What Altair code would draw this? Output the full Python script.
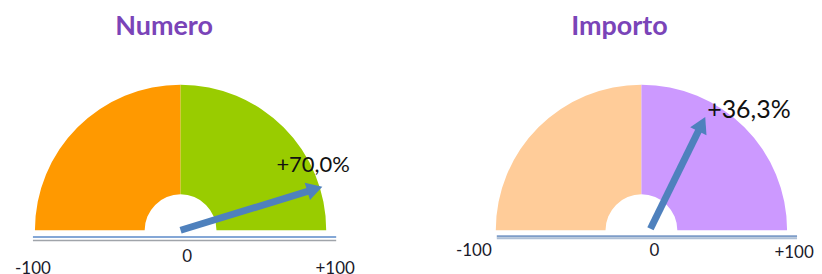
import altair as alt
import pandas as pd

# ---- data ----
gauges = ["Numero", "Importo"]
values = [70.0, 36.3]
seg_names = ["neg", "pos"]
seg_start = [-100, 0]
seg_end = [0, 100]
# needle ends, in gauge units (radius of the dial = 100)
needle_tail_x = [0.0, 6.2]
needle_tail_y = [0.0, 1.0]
needle_tip_x = [97.3, 43.8]
needle_tip_y = [29.8, 77.7]
tick_values = [-100, 0, 100]
tick_labels = ["-100", "0", "+100"]

# ---- layout / style ----
PX = 1.46          # pixels per gauge unit
W, H = 403, 258    # panel size
CY = 222.5         # dial centre, panel y
R_OUT, R_IN = 146, 36
FONT = "Lato"
NEEDLE = "#4F81BD"
TITLE_COLOR = "#7A44B8"

STYLE = {
    "Numero": dict(colors=["#FF9900", "#99CC00"], cx=173, title_dx=-16.5,
                   val_dx=-46, val_dy=-15, val_size=22,
                   tick_dx=[-2, 6.5, 9], tick_dy=[44, 32, 44],
                   base=[(-6.8, 1.6, "#5B8AC8"), (-10.2, 1.6, "#A0A4AA")], base_x=(-148, 156)),
    "Importo": dict(colors=["#FFCC99", "#CC99FF"], cx=232, title_dx=-22,
                    val_dx=2, val_dy=1, val_size=25,
                    tick_dx=[-22, 13, 7], tick_dy=[26, 26, 28],
                    base=[(-6.0, 2.2, "#7E9DC8"), (-8.0, 2.2, "#AFC0D6")], base_x=(-145, 156)),
}


def fmt(v):
    return ("+" if v >= 0 else "") + f"{v:.1f}".replace(".", ",") + "%"


def panel(i):
    name = gauges[i]
    st = STYLE[name]
    cx = st["cx"]
    xs = alt.Scale(domain=[-cx / PX, (W - cx) / PX], nice=False, zero=False)
    ys = alt.Scale(domain=[-(H - CY) / PX, CY / PX], nice=False, zero=False)

    def X(f):
        return alt.X(f, type="quantitative", scale=xs, axis=None)

    def Y(f):
        return alt.Y(f, type="quantitative", scale=ys, axis=None)

    centre = pd.DataFrame({"cx": [0.0], "cy": [0.0]})

    # dial halves
    arcs = alt.Chart(pd.DataFrame({"seg": seg_names, "start": seg_start, "end": seg_end})).transform_calculate(
        t0="datum.start / 100 * PI / 2", t1="datum.end / 100 * PI / 2", cx="0", cy="0"
    ).mark_arc(radius=R_OUT, radius2=R_IN, stroke=None).encode(
        x=X("cx"), y=Y("cy"),
        theta=alt.Theta("t0:Q", scale=None, stack=None),
        theta2=alt.Theta2("t1:Q"),
        color=alt.Color("seg:N", scale=alt.Scale(domain=seg_names, range=st["colors"]), legend=None),
    )

    # baseline
    bx0, bx1 = st["base_x"]
    bases = []
    for (yy, sw, col) in st["base"]:
        bdf = pd.DataFrame({"x0": [bx0 / PX], "x1": [bx1 / PX], "y": [yy / PX]})
        bases.append(alt.Chart(bdf).mark_rule(strokeWidth=sw, color=col).encode(
            x=X("x0"), x2="x1", y=Y("y")))

    # needle
    nd = pd.DataFrame({"tx": [needle_tail_x[i]], "ty": [needle_tail_y[i]],
                       "hx": [needle_tip_x[i]], "hy": [needle_tip_y[i]],
                       "label": [fmt(values[i])]})
    back = 7.8 / PX
    needle_base = alt.Chart(nd).transform_calculate(
        ddx="datum.hx - datum.tx", ddy="datum.hy - datum.ty"
    ).transform_calculate(
        ln="sqrt(datum.ddx * datum.ddx + datum.ddy * datum.ddy)"
    ).transform_calculate(
        bx=f"datum.hx - datum.ddx / datum.ln * {back}",
        by=f"datum.hy - datum.ddy / datum.ln * {back}",
        ang="atan2(datum.ddx, datum.ddy) * 180 / PI",
    )
    shaft = needle_base.mark_rule(strokeWidth=7, color=NEEDLE, strokeCap="butt").encode(
        x=X("tx"), y=Y("ty"), x2="bx", y2="by"
    )
    head = needle_base.mark_point(shape="triangle-up", size=330, filled=True, opacity=1,
                                  color=NEEDLE, strokeWidth=0).encode(
        x=X("bx"), y=Y("by"), angle=alt.Angle("ang:Q", scale=None)
    )
    label = alt.Chart(nd).mark_text(font=FONT, fontSize=st["val_size"], color="#111111",
                                    align="left", baseline="alphabetic",
                                    dx=st["val_dx"], dy=st["val_dy"]).encode(
        x=X("hx"), y=Y("hy"), text="label:N"
    )

    title = alt.Chart(centre.assign(t=[name])).mark_text(
        font=FONT, fontSize=27, fontWeight="bold", color=TITLE_COLOR,
        align="center", baseline="alphabetic", dx=st["title_dx"], dy=35 - (CY + 8)
    ).encode(x=X("cx"), y=Y("cy"), text="t:N")

    layers = [arcs] + bases + [shaft, head, label, title]
    for k, (tv, tl) in enumerate(zip(tick_values, tick_labels)):
        tdf = pd.DataFrame({"x": [tv], "y": [0.0], "t": [tl]})
        layers.append(alt.Chart(tdf).mark_text(
            font=FONT, fontSize=17, color="#1A1A2A", align="center", baseline="alphabetic",
            dx=st["tick_dx"][k], dy=st["tick_dy"][k]
        ).encode(x=X("x"), y=Y("y"), text="t:N"))

    return alt.layer(*layers).properties(width=W, height=H)


chart = alt.hconcat(panel(0), panel(1), spacing=0, padding=0, background="white").resolve_scale(
    color="independent", x="independent", y="independent"
).configure_view(stroke=None)

chart.save("out.html", embed_options={"renderer": "svg", "actions": False})
